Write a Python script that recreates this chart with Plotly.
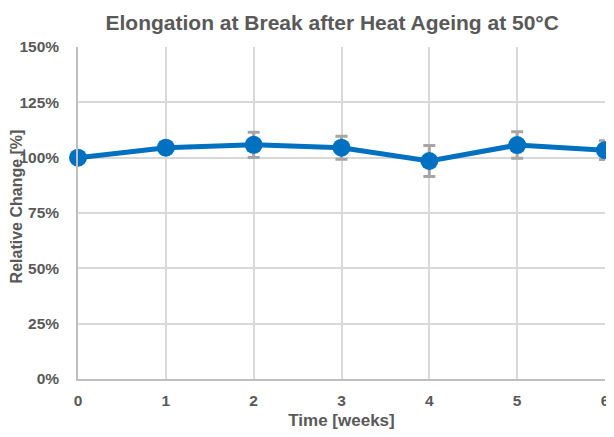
import plotly.graph_objects as go

weeks = [0, 1, 2, 3, 4, 5, 6]
relative_change = [100.0, 104.5, 105.8, 104.5, 98.5, 105.7, 103.4]
error = [0.0, 2.5, 5.7, 5.2, 7.0, 6.0, 4.2]
y_ticks = [0, 25, 50, 75, 100, 125, 150]
y_tick_labels = ["0%", "25%", "50%", "75%", "100%", "125%", "150%"]

FONT = "Liberation Sans"
TXT = "#595959"

fig = go.Figure()
fig.add_trace(go.Scatter(
    x=weeks, y=relative_change, mode="lines+markers",
    line=dict(color="#0070C0", width=5),
    marker=dict(color="#0070C0", size=18),
    error_y=dict(type="data", array=error, visible=True,
                 color="#A6A6A6", thickness=3, width=6),
    showlegend=False, cliponaxis=False,
))

# page has an 8px body margin, so the figure is 8px smaller than the window
fig.update_layout(
    width=606, height=429,
    margin=dict(l=70, r=9, t=39, b=58, autoexpand=False),
    paper_bgcolor="white", plot_bgcolor="white",
    title=dict(text="<b>Elongation at Break after Heat Ageing at 50°C</b>",
               x=0.535, xanchor="center", y=0.967, yanchor="middle",
               font=dict(family=FONT, size=21, color=TXT)),
    font=dict(family=FONT, color=TXT),
    xaxis=dict(range=[0, 6], tickvals=weeks, ticktext=[f"<b>{w}</b>" for w in weeks],
               automargin=False,
               showgrid=True, gridcolor="#D9D9D9", gridwidth=1.5,
               showline=True, linecolor="#BFBFBF", linewidth=1.5,
               zeroline=False, ticks="", ticklen=0, ticklabelstandoff=7,
               tickfont=dict(family=FONT, size=15.5, color=TXT),
               title=dict(text="<b>Time [weeks]</b>", standoff=6,
                          font=dict(family=FONT, size=17, color=TXT))),
    yaxis=dict(range=[0, 150], tickvals=y_ticks,
               ticktext=[f"<b>{t}</b>" for t in y_tick_labels],
               automargin=False,
               showgrid=True, gridcolor="#D9D9D9", gridwidth=1.5,
               showline=True, linecolor="#BFBFBF", linewidth=1.5,
               zeroline=False, ticks="", ticklen=0, ticklabelstandoff=14,
               tickfont=dict(family=FONT, size=15.5, color=TXT)),
    annotations=[dict(text="<b>Relative Change [%]</b>", textangle=-90,
                      xref="paper", yref="paper", x=-0.1176, y=0.52,
                      xanchor="center", yanchor="middle", showarrow=False,
                      font=dict(family=FONT, size=16, color=TXT))],
)

fig.write_html("out.html")
